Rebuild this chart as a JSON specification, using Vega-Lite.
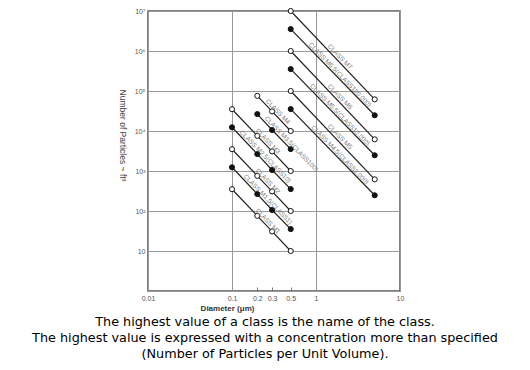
{
  "$schema": "https://vega.github.io/schema/vega-lite/v6.json",
  "width": 252,
  "height": 280,
  "autosize": {"type": "none"},
  "padding": {"left": 148, "top": 11, "right": 130, "bottom": 79},
  "background": "white",
  "config": {"view": {"stroke": "#555", "strokeWidth": 1.5}, "font": "Liberation Sans"},
  "title": {
    "text": ["The highest value of a class is the name of the class.", "The highest value is expressed with a concentration more than specified", "(Number of Particles per Unit Volume)."],
    "orient": "bottom", "anchor": "middle", "frame": "group", "font": "DejaVu Sans", "fontSize": 12.8, "fontWeight": "normal", "color": "#000", "lineHeight": 16, "offset": 4, "dx": -9
  },
  "datasets": {
    "pts": [
      {"cls": "M1", "d": 0.1, "n": 350, "filled": "no"},
      {"cls": "M1", "d": 0.2, "n": 75.7, "filled": "no"},
      {"cls": "M1", "d": 0.3, "n": 30.9, "filled": "no"},
      {"cls": "M1", "d": 0.5, "n": 10, "filled": "no"},
      {"cls": "M1.5", "d": 0.1, "n": 1240, "filled": "yes"},
      {"cls": "M1.5", "d": 0.2, "n": 265, "filled": "yes"},
      {"cls": "M1.5", "d": 0.3, "n": 106, "filled": "yes"},
      {"cls": "M1.5", "d": 0.5, "n": 35.3, "filled": "yes"},
      {"cls": "M2", "d": 0.1, "n": 3500, "filled": "no"},
      {"cls": "M2", "d": 0.2, "n": 757, "filled": "no"},
      {"cls": "M2", "d": 0.3, "n": 309, "filled": "no"},
      {"cls": "M2", "d": 0.5, "n": 100, "filled": "no"},
      {"cls": "M2.5", "d": 0.1, "n": 12400, "filled": "yes"},
      {"cls": "M2.5", "d": 0.2, "n": 2650, "filled": "yes"},
      {"cls": "M2.5", "d": 0.3, "n": 1060, "filled": "yes"},
      {"cls": "M2.5", "d": 0.5, "n": 353, "filled": "yes"},
      {"cls": "M3", "d": 0.1, "n": 35000, "filled": "no"},
      {"cls": "M3", "d": 0.2, "n": 7570, "filled": "no"},
      {"cls": "M3", "d": 0.3, "n": 3090, "filled": "no"},
      {"cls": "M3", "d": 0.5, "n": 1000, "filled": "no"},
      {"cls": "M3.5", "d": 0.2, "n": 26500, "filled": "yes"},
      {"cls": "M3.5", "d": 0.3, "n": 10600, "filled": "yes"},
      {"cls": "M3.5", "d": 0.5, "n": 3530, "filled": "yes"},
      {"cls": "M4", "d": 0.2, "n": 75700, "filled": "no"},
      {"cls": "M4", "d": 0.3, "n": 30900, "filled": "no"},
      {"cls": "M4", "d": 0.5, "n": 10000, "filled": "no"},
      {"cls": "M4.5", "d": 0.5, "n": 35300, "filled": "yes"},
      {"cls": "M4.5", "d": 5, "n": 247, "filled": "yes"},
      {"cls": "M5", "d": 0.5, "n": 100000, "filled": "no"},
      {"cls": "M5", "d": 5, "n": 618, "filled": "no"},
      {"cls": "M5.5", "d": 0.5, "n": 353000, "filled": "yes"},
      {"cls": "M5.5", "d": 5, "n": 2470, "filled": "yes"},
      {"cls": "M6", "d": 0.5, "n": 1000000, "filled": "no"},
      {"cls": "M6", "d": 5, "n": 6180, "filled": "no"},
      {"cls": "M6.5", "d": 0.5, "n": 3530000, "filled": "yes"},
      {"cls": "M6.5", "d": 5, "n": 24700, "filled": "yes"},
      {"cls": "M7", "d": 0.5, "n": 10000000, "filled": "no"},
      {"cls": "M7", "d": 5, "n": 61800, "filled": "no"}
    ],
    "labels": [
      {"label": "CLASS M1", "d": 0.247, "n": 47.2},
      {"label": "CLASS M1.5(CLASS1)", "d": 0.247, "n": 166.6},
      {"label": "CLASS M2", "d": 0.247, "n": 472},
      {"label": "CLASS M2.5(CLASS10)", "d": 0.23, "n": 1950},
      {"label": "CLASS M3", "d": 0.247, "n": 4720},
      {"label": "CLASS M3.5(CLASS100)", "d": 0.47, "n": 4045},
      {"label": "CLASS M4", "d": 0.325, "n": 25800},
      {"label": "CLASS M4.5(CLASS1,000)", "d": 1.78, "n": 2160},
      {"label": "CLASS M5", "d": 1.78, "n": 6120},
      {"label": "CLASS M5.5(CLASS10,000)", "d": 1.78, "n": 21600},
      {"label": "CLASS M6", "d": 1.78, "n": 61200},
      {"label": "CLASS M6.5(CLASS100,000)", "d": 1.78, "n": 216000},
      {"label": "CLASS M7", "d": 1.78, "n": 612000}
    ]
  },
  "encoding": {
    "x": {
      "field": "d", "type": "quantitative",
      "scale": {"type": "log", "domain": [0.01, 10], "nice": false},
      "axis": {
        "values": [0.01, 0.1, 0.2, 0.3, 0.5, 1, 10],
        "labelExpr": "'' + datum.value",
        "labelOverlap": false, "labelFlush": false,
        "labelFontSize": 7, "labelColor": "#555", "labelPadding": 7,
        "ticks": true, "tickSize": -4, "tickColor": "#777",
        "tickOpacity": {"condition": {"test": "datum.value == 0.2 || datum.value == 0.3 || datum.value == 0.5", "value": 1}, "value": 0},
        "domain": false,
        "grid": true, "gridColor": "#999", "gridWidth": 1,
        "gridOpacity": {"condition": {"test": "datum.value == 0.2 || datum.value == 0.3 || datum.value == 0.5", "value": 0}, "value": 1},
        "title": "Diameter (μm)", "titleFontSize": 8, "titleFontWeight": "bold", "titleColor": "#333",
        "titleX": 79, "titleY": 13, "titleAlign": "center", "titleBaseline": "top"
      }
    },
    "y": {
      "field": "n", "type": "quantitative",
      "scale": {"type": "log", "domain": [1, 10000000], "nice": false},
      "axis": {
        "values": [1, 10, 100, 1000, 10000, 100000, 1000000, 10000000],
        "labelExpr": "datum.value == 1 ? '' : datum.value == 10 ? '10' : '10' + ['', '', '²', '³', '⁴', '⁵', '⁶', '⁷'][round(log(datum.value) / LN10)]",
        "labelOverlap": false, "labelFlush": false,
        "labelFontSize": 7, "labelColor": "#555", "labelPadding": 3,
        "ticks": false, "domain": false,
        "grid": true, "gridColor": "#999", "gridWidth": 1,
        "title": "Number of Particles ~ ft³", "titleFontSize": 8.5, "titleFontWeight": "normal", "titleColor": "#444",
        "titleAngle": 90, "titleX": -26, "titleY": 124, "titleAlign": "center", "titleBaseline": "middle"
      }
    }
  },
  "layer": [
    {
      "data": {"name": "pts"},
      "mark": {"type": "line", "color": "#222", "strokeWidth": 1.2},
      "encoding": {"detail": {"field": "cls"}}
    },
    {
      "data": {"name": "pts"},
      "mark": {"type": "point", "shape": "circle", "size": 26, "filled": true, "stroke": "#111", "strokeWidth": 1, "opacity": 1},
      "encoding": {
        "fill": {"field": "filled", "type": "nominal", "scale": {"domain": ["yes", "no"], "range": ["#111", "white"]}, "legend": null}
      }
    },
    {
      "data": {"name": "labels"},
      "mark": {"type": "text", "angle": 46, "align": "center", "baseline": "alphabetic", "dy": -2, "fontSize": 6.5, "color": "#777"},
      "encoding": {"text": {"field": "label"}}
    }
  ]
}
